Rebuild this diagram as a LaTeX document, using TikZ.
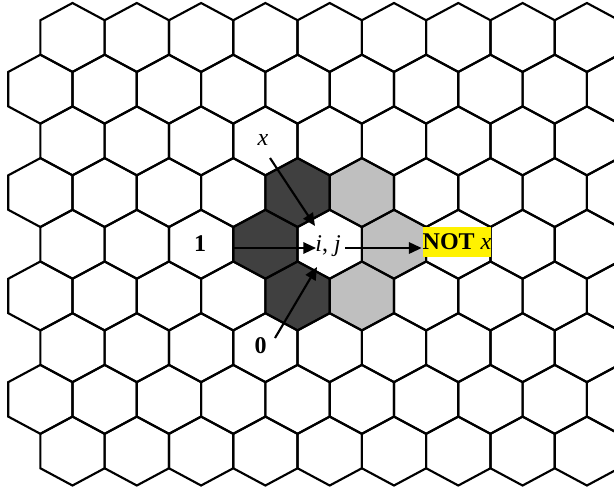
\documentclass[tikz,border=0pt]{standalone}
\usepackage{fontspec}
\setmainfont{Liberation Serif}
\usetikzlibrary{arrows.meta}

\definecolor{darkcell}{gray}{0.25}
\definecolor{lightcell}{gray}{0.75}

% one hexagon of the grid: row, column, path options
\newcommand{\hexcell}[3]{%
    \pgfmathsetmacro{\celly}{37.45+51.7*#1}
    \pgfmathsetmacro{\cellx}{72.5-32.15*mod(#1,2)+64.3*#2}
    \path[#3] (\cellx,\celly-34.45) -- ++(32.15,17.25) -- ++(0,34.4)
        -- ++(-32.15,17.25) -- ++(-32.15,-17.25) -- ++(0,-34.4) -- cycle;
}

\begin{document}
\begin{tikzpicture}[x=0.75pt,y=-0.75pt,line width=1.6pt,
    lbl/.style={font=\fontsize{18}{21}\selectfont, inner sep=0pt},
    link/.style={-{Triangle[length=9.5pt,width=8.5pt]}, line width=1.6pt}]

    \useasboundingbox (0,0) rectangle (614,487);
    \clip (0,0) rectangle (614,487);

    % shaded neighbours
    \foreach \r/\c in {3/4,4/3,5/4} {
        \hexcell{\r}{\c}{fill=darkcell}
    }
    \foreach \r/\c in {3/5,4/5,5/5} {
        \hexcell{\r}{\c}{fill=lightcell}
    }

    % grid
    \foreach \r in {0,...,8} {
        \foreach \c in {0,...,9} {
            \hexcell{\r}{\c}{draw}
        }
    }

    % labels
    \node[lbl, anchor=base] (x) at (263,145) {\textit{x}};
    \node[lbl, anchor=base] (one) at (200,251.5) {\textbf{1}};
    \node[lbl, anchor=base] (ij) at (328,251) {\textit{i}, \textit{j}};
    \node[lbl, anchor=base] (zero) at (260.5,353) {\textbf{0}};
    \node[lbl, fill=yellow, minimum height=22pt] (notx) at (457,242)
        {\textbf{NOT} \textit{x}};

    % arrow ends
    \coordinate (xtail) at (270,158);
    \coordinate (xtip) at (315,226);
    \coordinate (onetail) at (233,248);
    \coordinate (onetip) at (316,248);
    \coordinate (ijtail) at (345,248);
    \coordinate (zerotail) at (275,338);
    \coordinate (zerotip) at (317,267);

    \draw[link] (xtail) -- (xtip);
    \draw[link] (onetail) -- (onetip);
    \draw[link] (zerotail) -- (zerotip);
    \draw[link] (ijtail) -- (ijtail -| notx.west);

\end{tikzpicture}
\end{document}
